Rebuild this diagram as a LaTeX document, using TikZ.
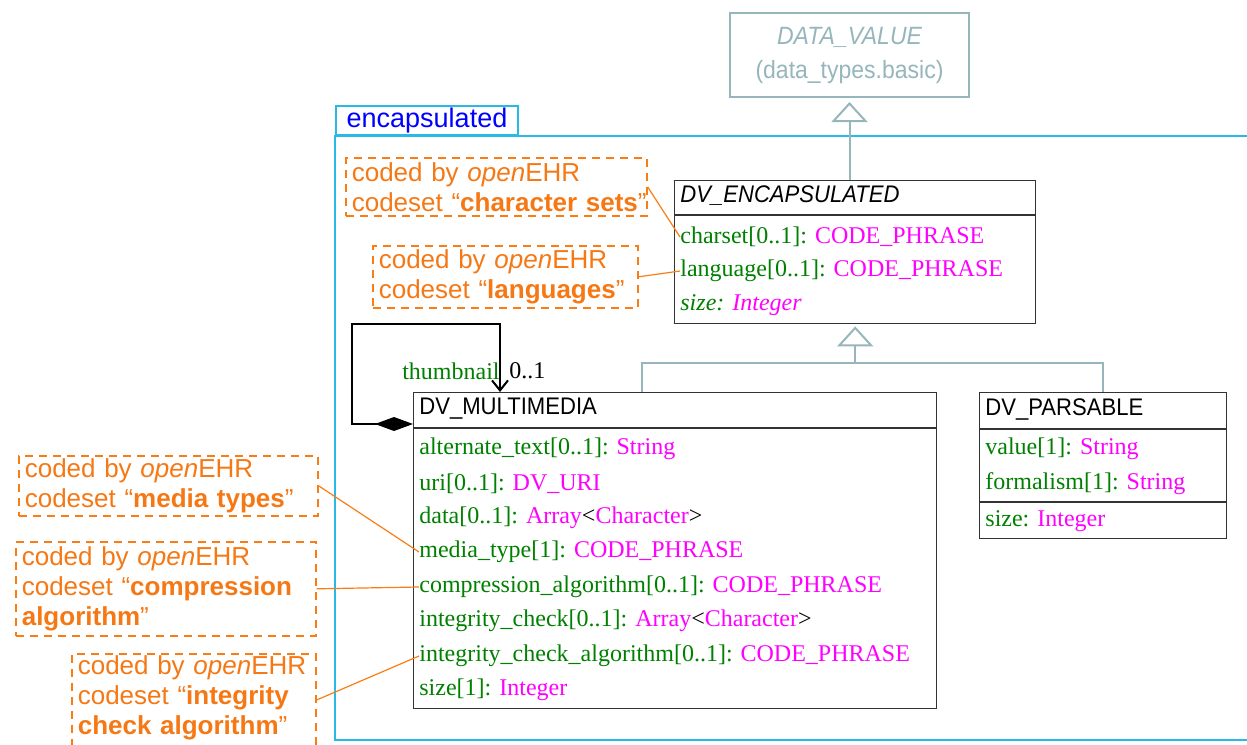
\documentclass[tikz,border=0pt]{standalone}
\usepackage{fontspec}
\setmainfont{Liberation Serif}
\setsansfont{Liberation Sans}
\newfontfamily\classfont[FakeStretch=0.92]{Liberation Sans}
\usetikzlibrary{arrows.meta}

\definecolor{basegray}{RGB}{150,182,188}
\definecolor{pkgcyan}{RGB}{40,185,230}
\definecolor{notedash}{RGB}{250,125,20}
\definecolor{notetext}{RGB}{245,120,20}
\definecolor{attrgreen}{RGB}{0,128,0}
\definecolor{typemagenta}{RGB}{255,0,255}

\newcommand{\typ}[1]{\textcolor{typemagenta}{#1}}
\newcommand{\arrayof}[1]{\typ{Array}\textcolor{black}{<}\typ{#1}\textcolor{black}{>}}
\newcommand{\oehr}{coded by \textit{open}EHR}

\tikzset{
  classbox/.style={draw=black!80, line width=0.7pt, rectangle, anchor=north west, inner sep=0pt},
  classsep/.style={draw=black!80, line width=0.7pt},
  basebox/.style={draw=basegray, line width=1pt, rectangle, anchor=north west, inner sep=0pt, text=basegray, font=\classfont\fontsize{12.5}{17}\selectfont, align=center},
  classname/.style={anchor=west, inner sep=0pt, font=\classfont\fontsize{12}{14}\selectfont},
  attr/.style={anchor=west, inner sep=0pt, text=attrgreen, font=\fontsize{12}{14}\selectfont},
  notebox/.style={draw=notedash, dashed, dash pattern=on 4pt off 3pt, line width=0.8pt, anchor=north west, text=notetext, font=\sffamily\fontsize{13}{15}\selectfont, align=left, inner xsep=3pt, inner ysep=1pt},
  noteline/.style={draw=notedash, line width=0.6pt},
  inherit/.style={draw=basegray, line width=1pt},
  pkgtab/.style={draw=pkgcyan, line width=1pt, anchor=south west, text=blue, font=\sffamily\fontsize{13.5}{16}\selectfont, minimum width=91pt, minimum height=14.5pt, inner sep=0pt},
  pkgline/.style={draw=pkgcyan, line width=1pt},
}

\begin{document}
\begin{tikzpicture}[x=0.5pt, y=-0.5pt]
\useasboundingbox (0,0) rectangle (1247,744);

% Package
\node[pkgtab] (encaps) at (335,136) {encapsulated};
\draw[pkgline] (1260,136) -- (encaps.south west) -- (335,740) -- (1260,740);

% Base class
\node[basebox, minimum width=119.5pt, minimum height=42pt] (datavalue) at (729,12) {{\itshape DATA\_VALUE}\\(data\_types.basic)};

% DV_ENCAPSULATED
\node[classbox, minimum width=180.5pt, minimum height=71.5pt] (dvenc) at (674,180) {};
\draw[classsep] ([yshift=-17.5pt]dvenc.north west) -- ([yshift=-17.5pt]dvenc.north east);
\node[classname] (dvenctitle) at (680,196) {\itshape DV\_ENCAPSULATED};
\node[attr] (charset) at (680,237) {charset[0..1]: \typ{CODE\_PHRASE}};
\node[attr] (language) at (680,271) {language[0..1]: \typ{CODE\_PHRASE}};
\node[attr] (encsize) at (680,305) {\itshape size: \typ{Integer}};

% DV_MULTIMEDIA
\node[classbox, minimum width=261.5pt, minimum height=158pt] (dvmm) at (413,392) {};
\draw[classsep] ([yshift=-18pt]dvmm.north west) -- ([yshift=-18pt]dvmm.north east);
\node[classname] (dvmmtitle) at (419,409) {DV\_MULTIMEDIA};
\node[attr] (alttext) at (419,449) {alternate\_text[0..1]: \typ{String}};
\node[attr] (uri) at (419,484) {uri[0..1]: \typ{DV\_URI}};
\node[attr] (data) at (419,518) {data[0..1]: \arrayof{Character}};
\node[attr] (mediatype) at (419,552) {media\_type[1]: \typ{CODE\_PHRASE}};
\node[attr] (compralg) at (419,587) {compression\_algorithm[0..1]: \typ{CODE\_PHRASE}};
\node[attr] (integchk) at (419,621) {integrity\_check[0..1]: \arrayof{Character}};
\node[attr] (integalg) at (419,656) {integrity\_check\_algorithm[0..1]: \typ{CODE\_PHRASE}};
\node[attr] (mmsize) at (419,690) {size[1]: \typ{Integer}};

% DV_PARSABLE
\node[classbox, minimum width=123.5pt, minimum height=73pt] (dvpars) at (979,392) {};
\draw[classsep] ([yshift=-18.5pt]dvpars.north west) -- ([yshift=-18.5pt]dvpars.north east);
\draw[classsep] ([yshift=-55pt]dvpars.north west) -- ([yshift=-55pt]dvpars.north east);
\node[classname] (dvparstitle) at (985,409) {DV\_PARSABLE};
\node[attr] (value) at (985,449) {value[1]: \typ{String}};
\node[attr] (formalism) at (985,484) {formalism[1]: \typ{String}};
\node[attr] (parssize) at (985,521) {size: \typ{Integer}};

% Inheritance
\draw[inherit, -{Triangle[open, length=10pt, width=18pt]}, shorten >=2pt] (dvenc.north -| datavalue.south) -- (datavalue.south);
\draw[inherit] (dvmm.north -| 642,0) |- (dvpars.north |- 0,363) -- (dvpars.north);
\draw[inherit, -{Triangle[open, length=10pt, width=18pt]}, shorten >=1pt] (dvenc.south |- 0,363) -- (dvenc.south);

% Thumbnail association
\draw[line width=1pt, {Diamond[length=19pt, width=7pt]}-{Straight Barb[length=5pt, width=8pt]}] ([yshift=-16pt]dvmm.north west) -| (352,324) -| ([xshift=43.5pt]dvmm.north west);
\node[attr, anchor=east] (thumbrole) at (500,371) {thumbnail};
\node[attr, text=black] (thumbmult) at (509,371) {0..1};

% Notes
\node[notebox, text width=144.5pt, minimum height=29pt] (chsetnote) at (345,157) {\oehr\\codeset~“\textbf{character~sets}”};
\node[notebox, text width=126.5pt, minimum height=31pt] (langnote) at (372,245) {\oehr\\codeset~“\textbf{languages}”};
\node[notebox, text width=143.5pt, minimum height=30pt] (medianote) at (18,455) {\oehr\\codeset~“\textbf{media~types}”};
\node[notebox, text width=144pt, minimum height=47pt] (comprnote) at (15,541) {\oehr\\codeset~“\textbf{compression}\\\textbf{algorithm}”};
\node[notebox, text width=116pt] (integnote) at (71,653) {\oehr\\codeset~“\textbf{integrity}\\\textbf{check~algorithm}”\\\mbox{}};

\draw[noteline] (chsetnote.east) -- (charset.west);
\draw[noteline] (langnote.east) -- (language.west);
\draw[noteline] (medianote.east) -- (mediatype.west);
\draw[noteline] (comprnote.east) -- (compralg.west);
\draw[noteline] ([yshift=-23.5pt]integnote.north east) -- (integalg.west);
\end{tikzpicture}
\end{document}
